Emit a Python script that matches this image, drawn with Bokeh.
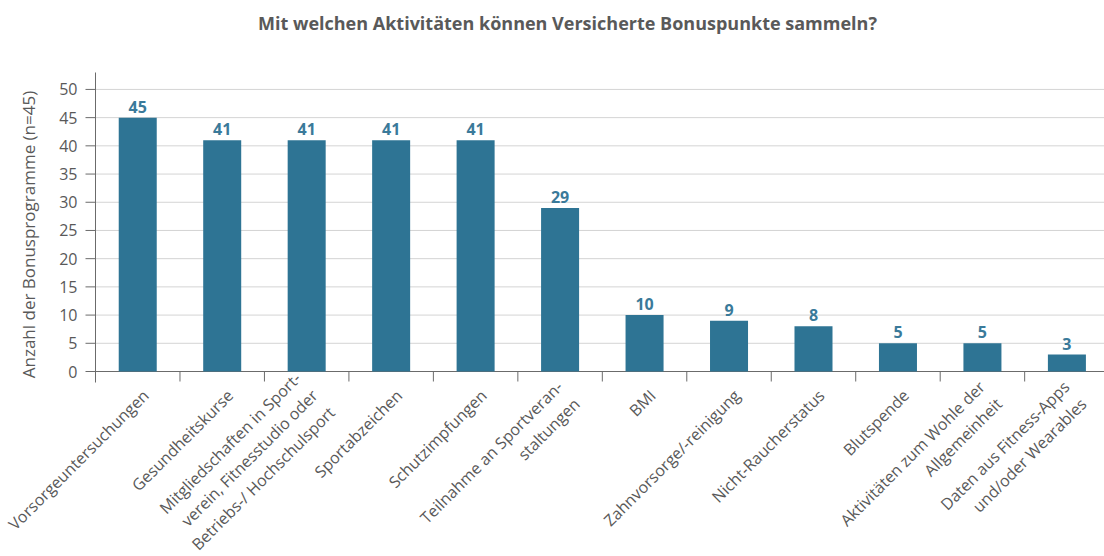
import math
from bokeh.plotting import figure
from bokeh.models import Range1d, ColumnDataSource, Label
from bokeh.core.properties import value
from bokeh.embed import file_html
from bokeh.resources import INLINE

title_text = "Mit welchen Aktivitäten können Versicherte Bonuspunkte sammeln?"
y_label = "Anzahl der Bonusprogramme (n=45)"

categories = [
    "Vorsorgeuntersuchungen",
    "Gesundheitskurse",
    "Mitgliedschaften in Sport-\nverein, Fitnesstudio oder\nBetriebs-/ Hochschulsport",
    "Sportabzeichen",
    "Schutzimpfungen",
    "Teilnahme an Sportveran-\nstaltungen",
    "BMI",
    "Zahnvorsorge/-reinigung",
    "Nicht-Raucherstatus",
    "Blutspende",
    "Aktivitäten zum Wohle der\nAllgemeinheit",
    "Daten aus Fitness-Apps\nund/oder Wearables",
]
values = [45, 41, 41, 41, 41, 29, 10, 9, 8, 5, 5, 3]
y_ticks = [0, 5, 10, 15, 20, 25, 30, 35, 40, 45, 50]
y_axis_max = 53

BAR = "#2E7494"
LBL = "#3A7A9A"
TXT = "#595959"
AX = "#6b6b6b"
GRID = "#d4d4d4"
FONT = "Open Sans"

# ---- layout (pixels) ----
W, H = 1104, 556
LEFT = 95           # plot area left edge (y axis line)
ZERO_PX = 371       # pixel row of value 0
TOP_PX = 72         # pixel row of y_axis_max
CAT_W = 84.47       # pixel width of one category
scale = (ZERO_PX - TOP_PX) / y_axis_max   # px per value unit


def dx(px):
    return px / CAT_W


def dy(px):
    return px / scale


n = len(categories)
x_start = -dx(LEFT)
x_end = dx(W - LEFT)
y_top = y_axis_max + dy(TOP_PX)
y_bot = -dy(H - ZERO_PX)

centers = [i + 0.5 for i in range(n)]
bounds = list(range(n + 1))
src = ColumnDataSource(dict(x=centers, top=values, label=[str(v) for v in values],
                            cat=categories, base=[0] * n))
grid_vals = y_ticks[1:]

p = figure(width=W, height=H, output_backend="svg", toolbar_location=None,
           x_range=Range1d(x_start, x_end), y_range=Range1d(y_bot, y_top),
           min_border=0, x_axis_location=None, y_axis_location=None)
p.outline_line_color = None
p.background_fill_color = "white"
p.xgrid.visible = False
p.ygrid.visible = False

# horizontal gridlines (plot area only)
p.segment(x0=[0] * len(grid_vals), x1=[x_end] * len(grid_vals), y0=grid_vals, y1=grid_vals,
          line_color=GRID, line_width=1)

# x axis line and category boundary ticks
p.segment(x0=[0], x1=[x_end], y0=[0], y1=[0], line_color=AX, line_width=1)
p.segment(x0=bounds, x1=bounds, y0=[0] * len(bounds), y1=[-dy(10)] * len(bounds),
          line_color=AX, line_width=1)

# y axis line, ticks, tick labels, title
p.segment(x0=[0], x1=[0], y0=[-dy(11)], y1=[y_axis_max], line_color=AX, line_width=1)
p.segment(x0=[0] * len(y_ticks), x1=[-dx(10)] * len(y_ticks), y0=y_ticks, y1=y_ticks,
          line_color=AX, line_width=1)
p.text(x=[-dx(18)] * len(y_ticks), y=y_ticks, text=[str(t) for t in y_ticks],
       text_align="right", text_baseline="middle",
       text_font=value(FONT), text_font_size="16px", text_color=TXT)
p.text(x=[-dx(LEFT - 28)], y=[dy(ZERO_PX - 234)], text=[y_label], angle=math.pi / 2,
       text_align="center", text_baseline="middle",
       text_font=value(FONT), text_font_size="17px", text_color=TXT)

# bars and value labels
p.vbar(x="x", top="top", width=0.45, source=src, fill_color=BAR, line_color=None)
p.text(x="x", y="top", text="label", source=src, y_offset=-5,
       text_align="center", text_baseline="bottom",
       text_font=value(FONT), text_font_size="16px", text_font_style="bold",
       text_color=LBL)

# category labels (rotated, right aligned, block centred on anchor)
p.text(x="x", y="base", text="cat", source=src, angle=math.pi / 4,
       x_offset=8, y_offset=21, text_align="right", text_baseline="middle",
       text_line_height=1.1,
       text_font=value(FONT), text_font_size="16px", text_color=TXT)

# title
p.add_layout(Label(x=dx(567 - LEFT), y=y_axis_max + dy(TOP_PX - 22),
                   text=title_text, text_align="center", text_baseline="middle",
                   text_font=FONT, text_font_size="18px", text_font_style="bold",
                   text_color=TXT))

open("out.html", "w").write(file_html(p, INLINE))
